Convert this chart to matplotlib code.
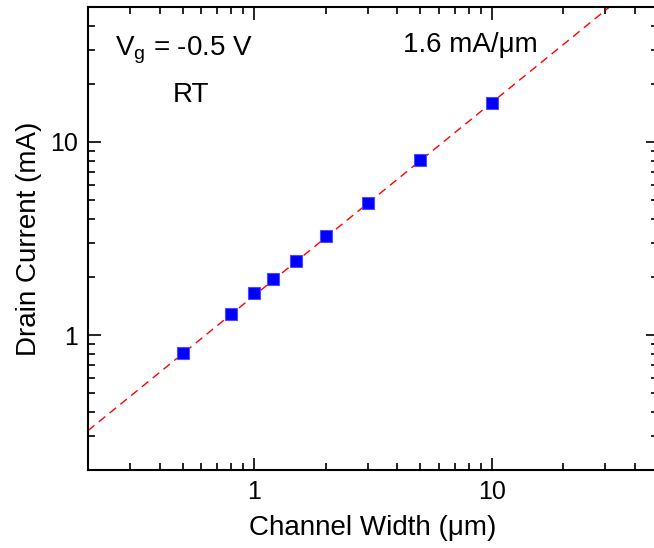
import matplotlib
matplotlib.use("Agg")
import matplotlib.pyplot as plt
import numpy as np
from matplotlib.ticker import LogLocator, FuncFormatter, NullFormatter

plt.rcParams['font.family'] = ['Liberation Sans', 'DejaVu Sans']
plt.rcParams['mathtext.fontset'] = 'custom'
plt.rcParams['mathtext.rm'] = 'Liberation Sans'
plt.rcParams['mathtext.it'] = 'Liberation Sans'

# measured drain current vs channel width
width_um = [0.5, 0.8, 1.0, 1.2, 1.5, 2.0, 3.0, 5.0, 10.0]
current_mA = [0.81, 1.285, 1.65, 1.95, 2.42, 3.26, 4.85, 8.07, 15.9]

# linear fit: 1.6 mA/um
slope = 1.6
fit_w = np.array([0.2, 50.0])
fit_i = slope * fit_w

fig = plt.figure(figsize=(6.54, 5.48), dpi=100)
ax = fig.add_axes([88 / 654, 78 / 548, 570 / 654, 463 / 548])

ax.plot(fit_w, fit_i, '--', color='red', lw=1.0, dashes=(6, 4))
ax.plot(width_um, current_mA, 's', color='blue', markersize=8.5, mec='#4a4aff', mew=0.8)

ax.set_xscale('log')
ax.set_yscale('log')
ax.set_xlim(0.2, 50)
ax.set_ylim(0.2, 50)

fmt = FuncFormatter(lambda v, p: '%g' % v)
for axis in (ax.xaxis, ax.yaxis):
    axis.set_major_locator(LogLocator(base=10, numticks=10))
    axis.set_major_formatter(fmt)
    axis.set_minor_locator(LogLocator(base=10, subs=np.arange(2, 10), numticks=10))
    axis.set_minor_formatter(NullFormatter())

ax.tick_params(which='both', direction='in', top=True, right=True, width=1.2)
ax.tick_params(which='major', length=9, labelsize=18, pad=7)
ax.tick_params(which='minor', length=5)
for s in ax.spines.values():
    s.set_linewidth(1.5)

ax.set_xlabel('Channel Width (μm)', fontsize=20, labelpad=8)
ax.set_ylabel('Drain Current (mA)', fontsize=20, labelpad=6)

ax.text(0.047, 0.907, r'V$_{\rm g}$ = -0.5 V', transform=ax.transAxes, fontsize=20,
        va='center', ha='left')
ax.text(0.18, 0.81, 'RT', transform=ax.transAxes, fontsize=20, va='center', ha='center')
ax.text(0.553, 0.918, '1.6 mA/μm', transform=ax.transAxes, fontsize=20, va='center', ha='left')

fig.savefig('out.png', dpi=100)
